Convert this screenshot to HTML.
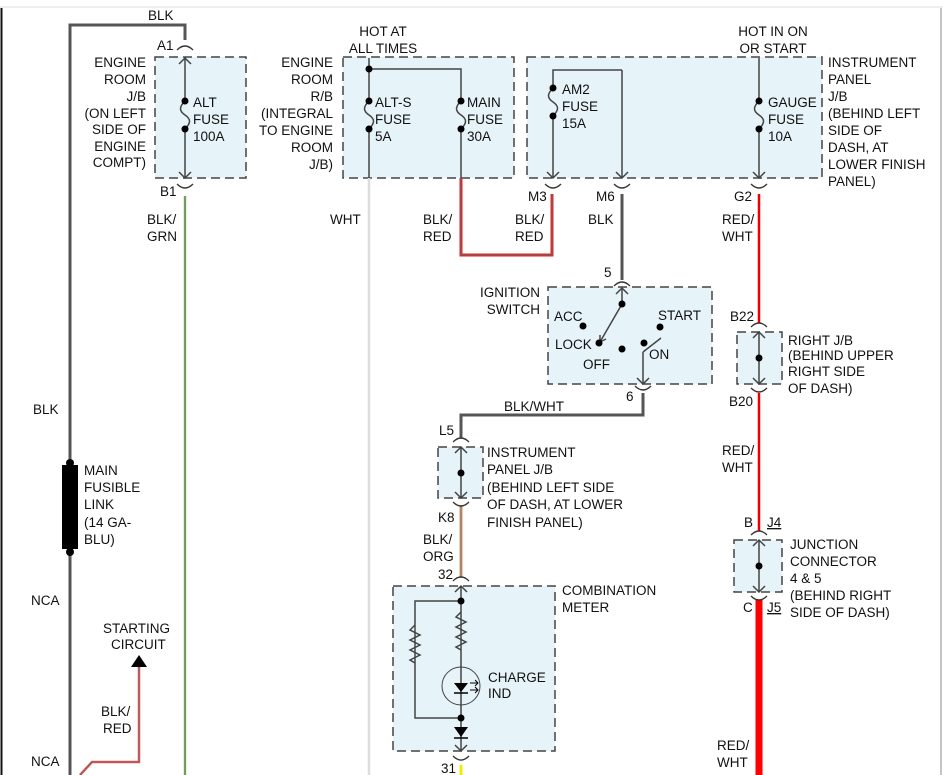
<!DOCTYPE html>
<html><head><meta charset="utf-8"><style>
html,body{margin:0;padding:0;background:#fff;}
svg{display:block;font-family:"Liberation Sans",Arial,sans-serif;font-size:13.5px;}
text{fill:#111;}
.box{fill:#e6f3f8;stroke:#444;stroke-width:1.5;stroke-dasharray:9,5;}
.w{fill:none;stroke:#555;stroke-width:3;}
.t{fill:none;stroke:#333;stroke-width:1.3;}
.d{fill:#000;}
</style></head><body>
<svg width="943" height="775" viewBox="0 0 943 775" xmlns="http://www.w3.org/2000/svg">
<line x1="0" y1="7" x2="943" y2="7" stroke="#ddd" stroke-width="1"/>
<line x1="1.5" y1="8" x2="1.5" y2="775" stroke="#111" stroke-width="2"/>
<line x1="941" y1="8" x2="941" y2="775" stroke="#888" stroke-width="1"/>

<!-- boxes -->
<rect class="box" x="155" y="57" width="91" height="121"/>
<rect class="box" x="343" y="57" width="171" height="121"/>
<rect class="box" x="527" y="57" width="295" height="121"/>
<rect class="box" x="548" y="287" width="164" height="97"/>
<rect class="box" x="737" y="332" width="45" height="52"/>
<rect class="box" x="438" y="447" width="45" height="51"/>
<rect class="box" x="734" y="540" width="48" height="52"/>
<rect class="box" x="393" y="586" width="162" height="165"/>

<!-- wires -->
<path class="w" d="M70,775 V25 H185 V40"/>
<line x1="185" y1="196" x2="185" y2="775" stroke="#8c6" stroke-width="2.5"/>
<line x1="185" y1="196" x2="185" y2="775" stroke="#666" stroke-width="1" />
<line x1="369" y1="178" x2="369" y2="775" stroke="#ddd" stroke-width="2.5"/>
<path d="M461,178 V255 H552 V194" fill="none" stroke="#e22" stroke-width="3"/>
<path d="M461,178 V255 H552 V194" fill="none" stroke="#666" stroke-width="1"/>
<path class="w" d="M622,194 V280"/>
<line x1="759" y1="194" x2="759" y2="323" stroke="#e00" stroke-width="2.5"/>
<line x1="759" y1="393" x2="759" y2="531" stroke="#e00" stroke-width="2.5"/>
<line x1="759" y1="600" x2="759" y2="775" stroke="#f00" stroke-width="7"/>
<path class="w" d="M643,393 V415 H461 V438"/>
<line x1="461" y1="506" x2="461" y2="578" stroke="#d96" stroke-width="3"/>
<line x1="461" y1="506" x2="461" y2="578" stroke="#777" stroke-width="1"/>
<line x1="461" y1="765" x2="461" y2="775" stroke="#ee0" stroke-width="3"/>
<path d="M80,775 L92,762 H139 V666" fill="none" stroke="#e55" stroke-width="2.5"/>
<path d="M80,775 L92,762 H139 V666" fill="none" stroke="#666" stroke-width="0.8"/>
<polygon points="131,667 147,667 139,655" fill="#000"/>

<!-- fusible link -->
<rect x="62" y="465" width="16" height="84" fill="#000"/>
<circle class="d" cx="70" cy="463" r="4"/><circle class="d" cx="70" cy="552" r="4"/>

<!-- connector arcs -->
<g class="t">
<path d="M177,50 Q185,42 193,50"/><path d="M177,184 Q185,192 193,184"/>
<path d="M545,184 Q553,192 561,184"/><path d="M614,184 Q622,192 630,184"/>
<path d="M751,184 Q759,192 767,184"/>
<path d="M614,286 Q622,278 630,286"/><path d="M635,386 Q643,394 651,386"/>
<path d="M751,327 Q759,319 767,327"/><path d="M751,388 Q759,396 767,388"/>
<path d="M453,442 Q461,434 469,442"/><path d="M453,502 Q461,510 469,502"/>
<path d="M751,535 Q759,527 767,535"/><path d="M751,596 Q759,604 767,596"/>
<path d="M453,581 Q461,573 469,581"/><path d="M453,756 Q461,764 469,756"/>
</g>
<!-- internal lines -->
<g stroke="#444" stroke-width="1.5" fill="none">
<path d="M185,58 V101 M185,129 V178"/>
<path d="M185,101 C179,107 179,111 185,115 C191,119 191,123 185,129"/>
<path d="M179,64 L185,58 L191,64 M179,172 L185,178 L191,172"/>
<path d="M369,58 V101 M369,129 V178 M369,69 H461 V101 M461,129 V178"/>
<path d="M369,101 C363,107 363,111 369,115 C375,119 375,123 369,129 M461,101 C455,107 455,111 461,115 C467,119 467,123 461,129"/>
<path d="M622,70 V178 M553,178 V116 M553,88 V70 H622"/>
<path d="M553,88 C547,94 547,98 553,102 C559,106 559,110 553,116"/>
<path d="M759,58 V101 M759,129 V178 M759,101 C753,107 753,111 759,115 C765,119 765,123 759,129"/>
<path d="M547,172 L553,178 L559,172 M616,172 L622,178 L628,172 M753,172 L759,178 L765,172"/>
<path d="M622,288 V304 L600,342 M643,352 L661,338 M643,352 V384"/>
<path d="M616,294 L622,288 L628,294 M600,342 l0,-7 M600,342 l6,-3 M637,378 L643,384 L649,378"/>
<path d="M759,332 V384 M753,338 L759,332 L765,338 M753,378 L759,384 L765,378"/>
<path d="M461,447 V498 M455,453 L461,447 L467,453 M455,492 L461,498 L467,492"/>
<path d="M759,540 V592 M753,546 L759,540 L765,546 M753,586 L759,592 L765,586"/>
<path d="M461,586 V751 M455,592 L461,586 L467,592 M455,745 L461,751 L467,745"/>
<path d="M461,601 H415 V718 H461"/>
<path d="M461,612 l-5,5 l10,5 l-10,5 l10,5 l-10,5 l10,5 l-10,5 l5,3"/>
<path d="M415,625 l-5,5 l10,5 l-10,5 l10,5 l-10,5 l10,5 l-10,5 l5,3"/>
</g>
<circle cx="461" cy="686" r="19" fill="none" stroke="#444" stroke-width="1"/>
<polygon points="454,683 468,683 461,692" fill="#000"/><line x1="454" y1="693" x2="468" y2="693" stroke="#000" stroke-width="1.5"/>
<path d="M470,683 h8 M470,690 h8 M475,680 l3,3 l-3,3 M475,687 l3,3 l-3,3" stroke="#000" fill="none" stroke-width="1"/>
<polygon points="454,727 468,727 461,737" fill="#000"/><line x1="454" y1="738" x2="468" y2="738" stroke="#000" stroke-width="1.5"/>
<g class="d">
<circle cx="185" cy="101" r="3.5"/><circle cx="185" cy="129" r="3.5"/>
<circle cx="369" cy="69" r="3.5"/><circle cx="369" cy="101" r="3.5"/><circle cx="369" cy="129" r="3.5"/>
<circle cx="461" cy="101" r="3.5"/><circle cx="461" cy="129" r="3.5"/>
<circle cx="553" cy="88" r="3.5"/><circle cx="553" cy="116" r="3.5"/>
<circle cx="759" cy="101" r="3.5"/><circle cx="759" cy="129" r="3.5"/>
<circle cx="622" cy="304" r="3.5"/><circle cx="583" cy="326" r="3.5"/><circle cx="599" cy="343" r="3.5"/>
<circle cx="622" cy="349" r="3.5"/><circle cx="660" cy="327" r="3.5"/><circle cx="644" cy="343" r="3.5"/>
<circle cx="759" cy="358" r="3.5"/><circle cx="461" cy="473" r="3.5"/><circle cx="759" cy="566" r="3.5"/>
<circle cx="461" cy="601" r="3.5"/><circle cx="461" cy="718" r="3.5"/>
</g>

<!-- text -->
<g>
<text x="148" y="20">BLK</text>
<text x="157" y="50">A1</text>
<text x="146" y="67" text-anchor="end">ENGINE</text>
<text x="146" y="84" text-anchor="end">ROOM</text>
<text x="146" y="101" text-anchor="end">J/B</text>
<text x="146" y="118" text-anchor="end">(ON LEFT</text>
<text x="146" y="134" text-anchor="end">SIDE OF</text>
<text x="146" y="151" text-anchor="end">ENGINE</text>
<text x="146" y="167" text-anchor="end">COMPT)</text>
<text x="193" y="107">ALT</text><text x="193" y="124">FUSE</text><text x="193" y="141">100A</text>
<text x="160" y="196">B1</text>
<text x="147" y="224">BLK/</text><text x="147" y="241">GRN</text>
<text x="333" y="67" text-anchor="end">ENGINE</text>
<text x="333" y="84" text-anchor="end">ROOM</text>
<text x="333" y="101" text-anchor="end">R/B</text>
<text x="333" y="118" text-anchor="end">(INTEGRAL</text>
<text x="333" y="135" text-anchor="end">TO ENGINE</text>
<text x="333" y="152" text-anchor="end">ROOM</text>
<text x="333" y="169" text-anchor="end">J/B)</text>
<text x="383" y="36" text-anchor="middle">HOT AT</text>
<text x="383" y="53" text-anchor="middle">ALL TIMES</text>
<text x="375" y="107">ALT-S</text><text x="375" y="124">FUSE</text><text x="375" y="141">5A</text>
<text x="467" y="107">MAIN</text><text x="467" y="124">FUSE</text><text x="467" y="141">30A</text>
<text x="330" y="224">WHT</text>
<text x="423" y="224">BLK/</text><text x="423" y="241">RED</text>
<text x="528" y="201">M3</text><text x="596" y="201">M6</text>
<text x="515" y="224">BLK/</text><text x="515" y="241">RED</text>
<text x="588" y="224">BLK</text>
<text x="562" y="94">AM2</text><text x="562" y="111">FUSE</text><text x="562" y="128">15A</text>
<text x="773" y="36" text-anchor="middle">HOT IN ON</text>
<text x="773" y="53" text-anchor="middle">OR START</text>
<text x="768" y="107">GAUGE</text><text x="768" y="124">FUSE</text><text x="768" y="141">10A</text>
<text x="828" y="67">INSTRUMENT</text><text x="828" y="84">PANEL</text><text x="828" y="101">J/B</text>
<text x="828" y="118">(BEHIND LEFT</text><text x="828" y="135">SIDE OF</text><text x="828" y="152">DASH, AT</text>
<text x="828" y="169">LOWER FINISH</text><text x="828" y="186">PANEL)</text>
<text x="734" y="201">G2</text>
<text x="722" y="224">RED/</text><text x="722" y="241">WHT</text>
<text x="604" y="277">5</text>
<text x="540" y="297" text-anchor="end">IGNITION</text><text x="540" y="314" text-anchor="end">SWITCH</text>
<text x="554" y="321">ACC</text><text x="555" y="349">LOCK</text><text x="583" y="369">OFF</text>
<text x="658" y="320">START</text><text x="649" y="359">ON</text>
<text x="626" y="401">6</text>
<text x="504" y="411">BLK/WHT</text>
<text x="730" y="321">B22</text><text x="729" y="406">B20</text>
<text x="788" y="345">RIGHT J/B</text><text x="788" y="360">(BEHIND UPPER</text>
<text x="788" y="376">RIGHT SIDE</text><text x="788" y="393">OF DASH)</text>
<text x="722" y="455">RED/</text><text x="722" y="472">WHT</text>
<text x="439" y="435">L5</text>
<text x="487" y="457">INSTRUMENT</text><text x="487" y="474">PANEL J/B</text>
<text x="487" y="492">(BEHIND LEFT SIDE</text><text x="487" y="509">OF DASH, AT LOWER</text>
<text x="487" y="527">FINISH PANEL)</text>
<text x="438" y="522">K8</text>
<text x="423" y="544">BLK/</text><text x="423" y="561">ORG</text>
<text x="438" y="579">32</text>
<text x="562" y="595">COMBINATION</text><text x="562" y="612">METER</text>
<text x="488" y="682">CHARGE</text><text x="488" y="698">IND</text>
<text x="441" y="773">31</text>
<text x="744" y="527">B</text>
<text x="767" y="527" text-decoration="underline">J4</text>
<text x="790" y="549">JUNCTION</text><text x="790" y="566">CONNECTOR</text>
<text x="790" y="583">4 &amp; 5</text><text x="790" y="600">(BEHIND RIGHT</text>
<text x="790" y="617">SIDE OF DASH)</text>
<text x="743" y="612">C</text>
<text x="767" y="612" text-decoration="underline">J5</text>
<text x="717" y="750">RED/</text><text x="717" y="767">WHT</text>
<text x="33" y="414">BLK</text>
<text x="84" y="475">MAIN</text><text x="84" y="492">FUSIBLE</text><text x="84" y="509">LINK</text>
<text x="84" y="527">(14 GA-</text><text x="84" y="544">BLU)</text>
<text x="31" y="605">NCA</text>
<text x="103" y="633">STARTING</text><text x="111" y="649">CIRCUIT</text>
<text x="101" y="716">BLK/</text><text x="103" y="733">RED</text>
<text x="31" y="766">NCA</text>
</g>
</svg>
</body></html>
